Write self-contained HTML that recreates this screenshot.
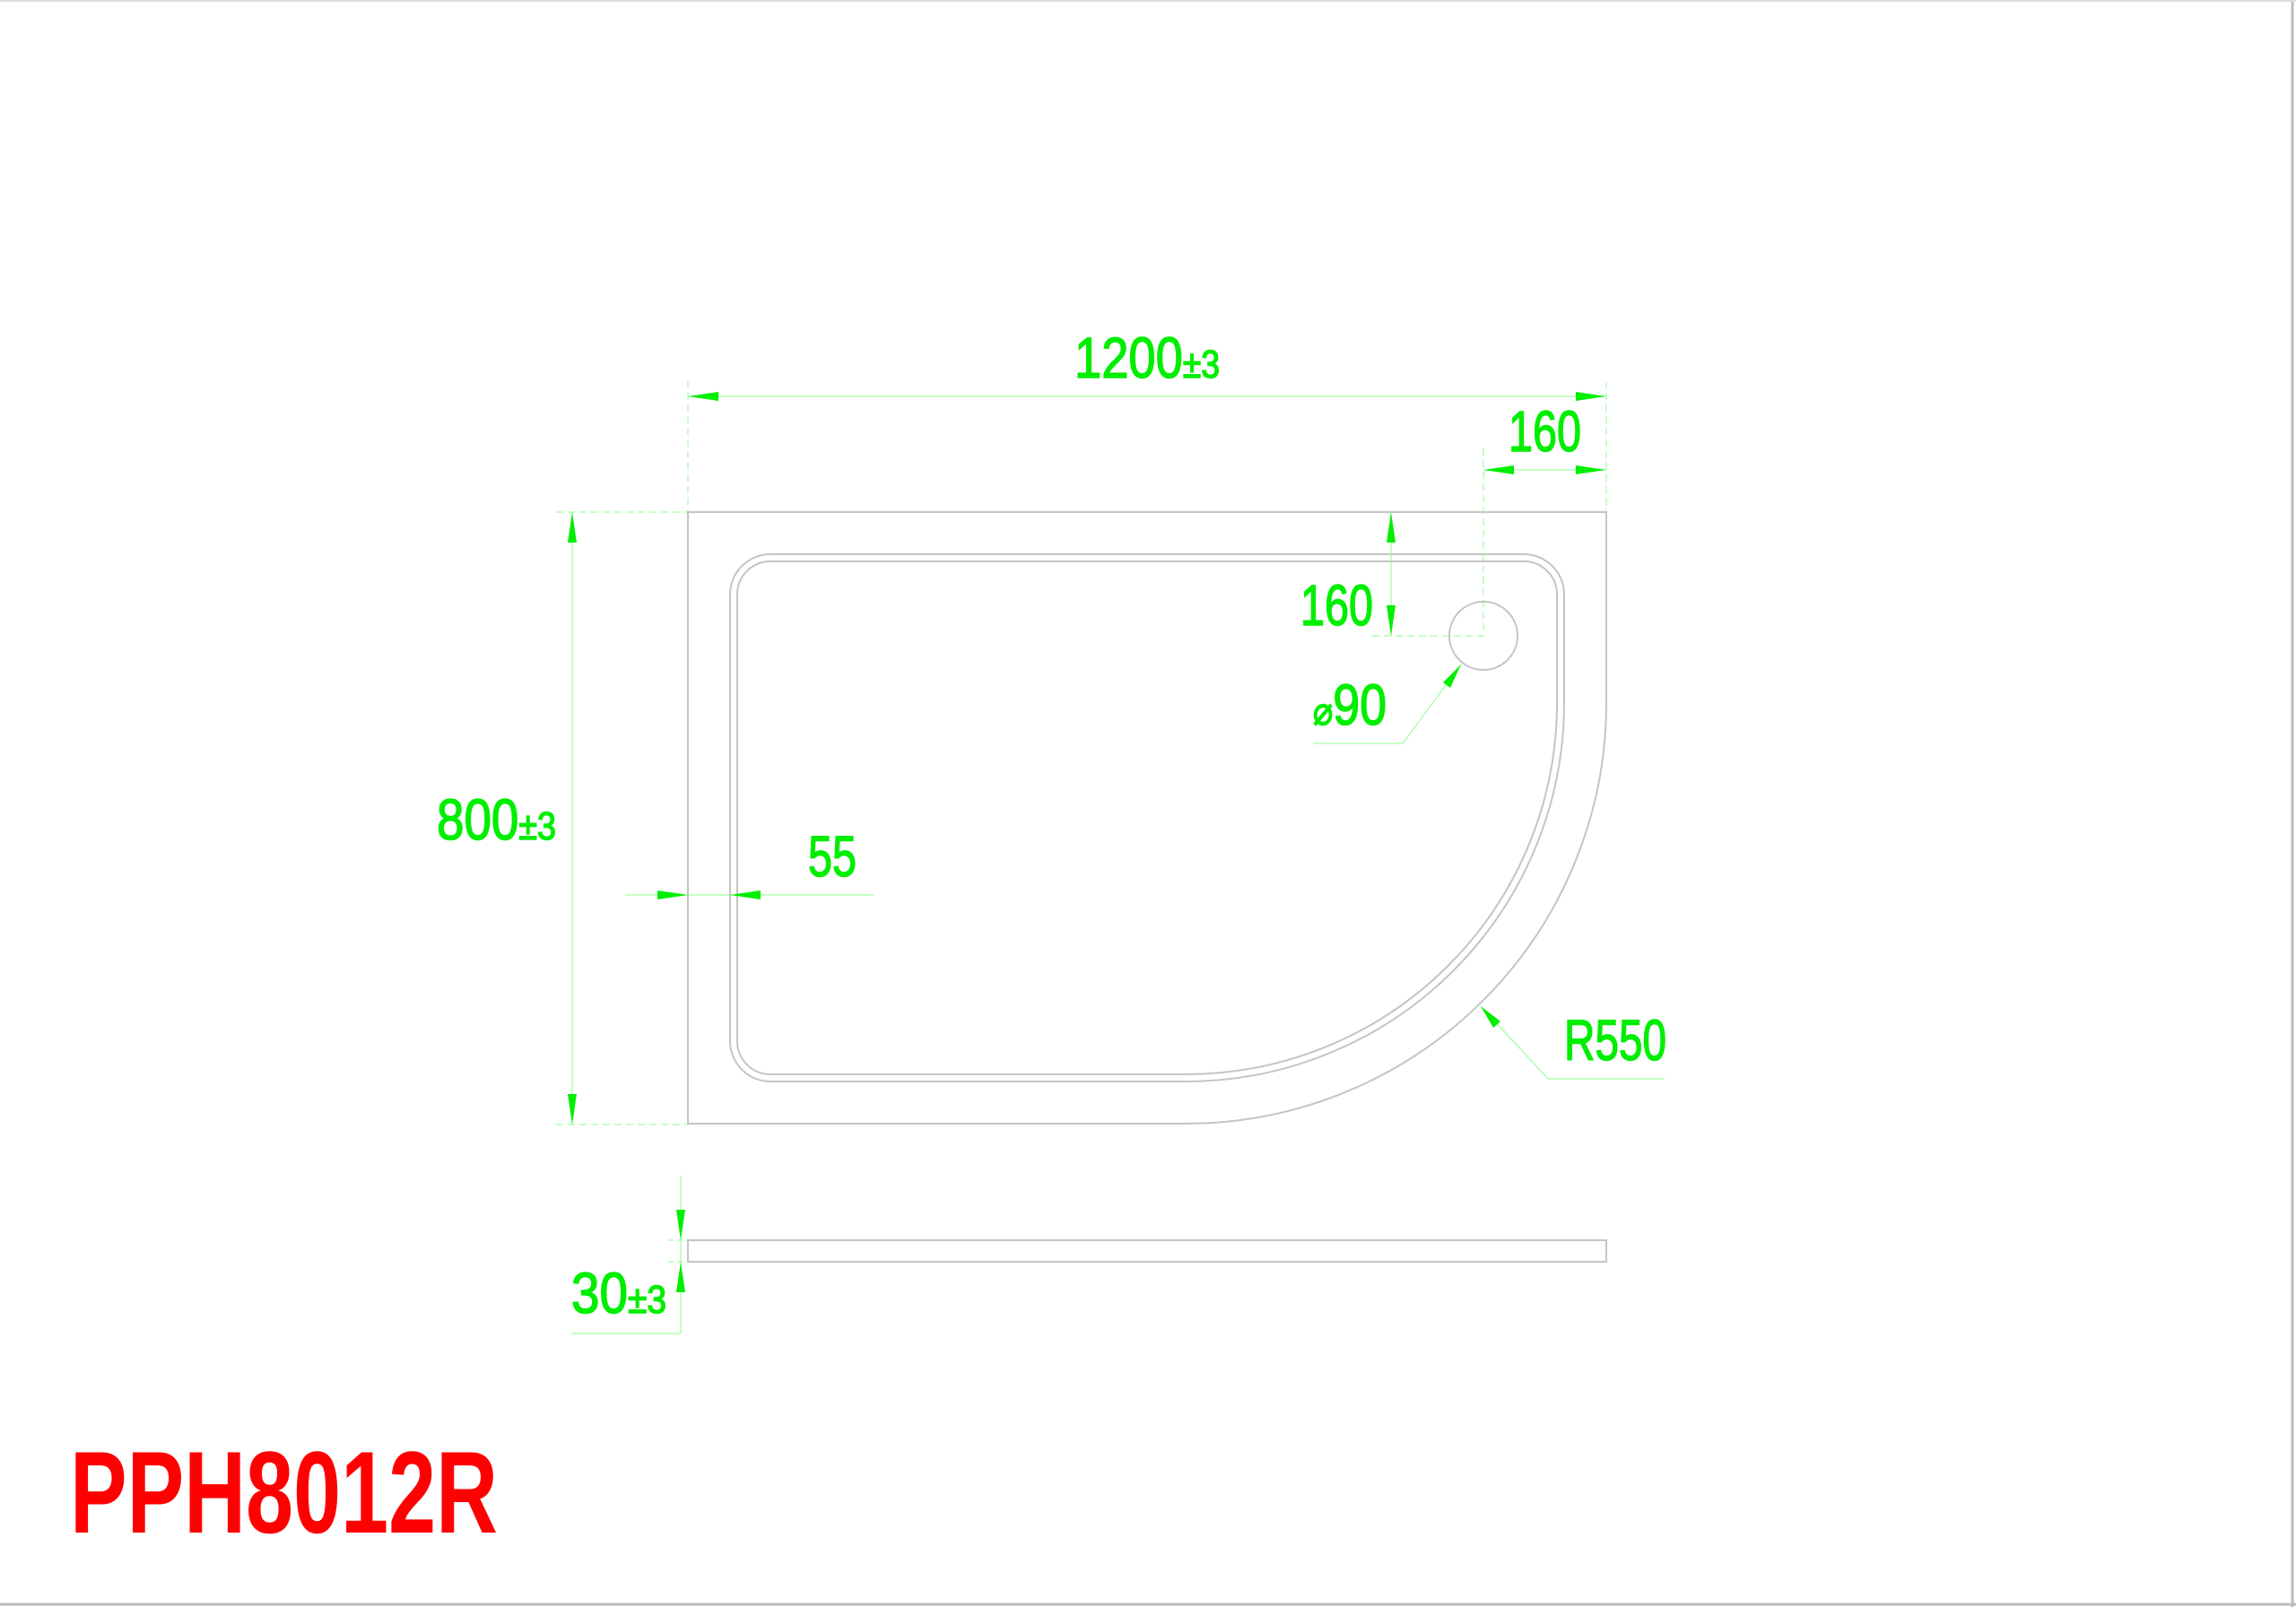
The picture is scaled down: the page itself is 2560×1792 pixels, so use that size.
<!DOCTYPE html>
<html><head><meta charset="utf-8"><style>
html,body{margin:0;padding:0;background:#fff;}
svg{display:block;}
text{font-family:"Liberation Sans",sans-serif;}
</style></head><body>
<svg width="2560" height="1792" viewBox="0 0 2560 1792" xmlns="http://www.w3.org/2000/svg">
<rect x="0" y="0" width="2560" height="1792" fill="#fff"/>
<line x1="2556" y1="0" x2="2556" y2="1792" stroke="#bbb" stroke-width="3"/>
<line x1="0" y1="1789" x2="2560" y2="1789" stroke="#bbb" stroke-width="3"/>
<line x1="0" y1="1" x2="2560" y2="1" stroke="#ddd" stroke-width="2"/>

<g fill="none" stroke="#c4c4c4" stroke-width="2">
<path d="M767 571 H1791 V784 A469 469 0 0 1 1322 1253 H767 Z"/>
<path d="M859 618 H1699 A45 45 0 0 1 1744 663 V784 A422 422 0 0 1 1322 1206 H859 A45 45 0 0 1 814 1161 V663 A45 45 0 0 1 859 618 Z"/>
<path d="M859 626 H1699 A37 37 0 0 1 1736 663 V784 A414 414 0 0 1 1322 1198 H859 A37 37 0 0 1 822 1161 V663 A37 37 0 0 1 859 626 Z"/>
<circle cx="1654" cy="709" r="38"/>
<rect x="767" y="1383" width="1024" height="24"/>
</g>

<g stroke="#88ff88" stroke-width="1" fill="none">
<line x1="767" y1="442" x2="1791" y2="442"/>
<line x1="767" y1="425" x2="767" y2="571" stroke-dasharray="8 5"/>
<line x1="1791" y1="425" x2="1791" y2="571" stroke-dasharray="8 5"/>
<line x1="1654" y1="524" x2="1791" y2="524"/>
<line x1="1654" y1="500" x2="1654" y2="709" stroke-dasharray="8 5"/>
<line x1="1551" y1="571" x2="1551" y2="709"/>
<line x1="1530" y1="709" x2="1654" y2="709" stroke-dasharray="8 5"/>
<polyline points="1629,741 1564,829 1464,829"/>
<polyline points="1651,1122 1726,1203 1856,1203"/>
<line x1="638" y1="571" x2="638" y2="1254"/>
<line x1="620" y1="571" x2="767" y2="571" stroke-dasharray="8 5"/>
<line x1="620" y1="1254" x2="767" y2="1254" stroke-dasharray="8 5"/>
<line x1="697" y1="998" x2="975" y2="998"/>
<line x1="759" y1="1311" x2="759" y2="1487"/>
<line x1="637" y1="1487" x2="759" y2="1487"/>
<line x1="745" y1="1383" x2="767" y2="1383" stroke-dasharray="6 4"/>
<line x1="745" y1="1407" x2="767" y2="1407" stroke-dasharray="6 4"/>
</g>

<g fill="#00ee00">
<polygon points="767,442 801,437 801,447"/>
<polygon points="1791,442 1757,437 1757,447"/>
<polygon points="1654,524 1688,519 1688,529"/>
<polygon points="1791,524 1757,519 1757,529"/>
<polygon points="1551,571 1546,605 1556,605"/>
<polygon points="1551,709 1546,675 1556,675"/>
<polygon points="1629,741 1617,767 1609,761"/>
<polygon points="1651,1122 1665,1146 1673,1139"/>
<polygon points="638,571 633,605 643,605"/>
<polygon points="638,1254 633,1220 643,1220"/>
<polygon points="767,998 733,993 733,1003"/>
<polygon points="814,998 848,993 848,1003"/>
<polygon points="759,1383 754,1349 764,1349"/>
<polygon points="759,1407 754,1441 764,1441"/>
</g>

<g fill="#00ee00" stroke="#00ee00" stroke-width="1.5" font-size="64">
<text x="1198" y="421" textLength="162" lengthAdjust="spacingAndGlyphs">1200<tspan font-size="44">±3</tspan></text>
<text x="1682" y="503" textLength="81" lengthAdjust="spacingAndGlyphs">160</text>
<text x="1450" y="697" textLength="81" lengthAdjust="spacingAndGlyphs">160</text>
<text x="1464" y="808" textLength="82" lengthAdjust="spacingAndGlyphs"><tspan font-size="44">⌀</tspan>90</text>
<text x="1744" y="1182" textLength="114" lengthAdjust="spacingAndGlyphs">R550</text>
<text x="487" y="936" textLength="133" lengthAdjust="spacingAndGlyphs">800<tspan font-size="44">±3</tspan></text>
<text x="901" y="977" textLength="54" lengthAdjust="spacingAndGlyphs">55</text>
<text x="637" y="1464" textLength="106" lengthAdjust="spacingAndGlyphs">30<tspan font-size="44">±3</tspan></text>
</g>
<text x="78" y="1709" font-size="130" font-weight="bold" fill="#ff0000" textLength="477" lengthAdjust="spacingAndGlyphs">PPH8012R</text>
</svg>
</body></html>
